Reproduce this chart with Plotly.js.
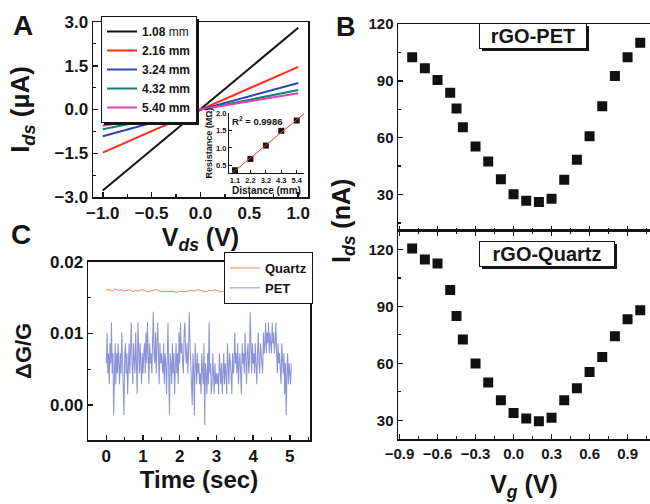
<!DOCTYPE html>
<html>
<head>
<meta charset="utf-8">
<script src="https://cdn.plot.ly/plotly-3.0.1.min.js"></script>
<style>html,body{margin:0;padding:0;background:#fff;}#chart{width:650px;height:504px;}</style>
</head>
<body>
<div id="chart"></div>
<script>
// ---------- Panel A: I-V curves ----------
const Vds = [-1, 0, 1];
const I_108 = [-2.78, 0, 2.80];
const I_216 = [-1.48, 0, 1.46];
const I_324 = [-0.92, 0, 0.91];
const I_432 = [-0.68, 0, 0.67];
const I_540 = [-0.56, 0, 0.56];
const seriesNamesA = ['<b>1.08</b> mm', '<b>2.16 mm</b>', '<b>3.24 mm</b>', '<b>4.32 mm</b>', '<b>5.40 mm</b>'];

// ---------- Panel A inset: resistance vs distance ----------
const distance = [1.08, 2.16, 3.24, 4.32, 5.40];
const resistance = [0.35, 0.68, 1.07, 1.50, 1.80];
const distanceTickText = ['1.1', '2.2', '3.2', '4.3', '5.4'];

// ---------- Panel B: transfer curves ----------
const Vg = [-0.8, -0.7, -0.6, -0.5, -0.45, -0.4, -0.3, -0.2, -0.1, 0, 0.1, 0.2, 0.3, 0.4, 0.5, 0.6, 0.7, 0.8, 0.9, 1.0];
const Ids_PET = [102.4, 96.7, 90.4, 83.7, 75.4, 65.5, 55.3, 47.4, 38.0, 30.2, 26.7, 26.0, 27.8, 37.8, 48.4, 60.7, 76.6, 92.6, 102.4, 110.1];
const Ids_Quartz = [120.5, 114.7, 112.6, 98.6, 84.9, 72.6, 59.9, 49.9, 40.6, 33.9, 30.9, 29.5, 31.4, 40.6, 46.9, 55.5, 63.4, 74.3, 83.3, 88.0];

// ---------- Panel C: noise vs time ----------
const timeStartQuartz = 0, timeStepQuartz = 0.08;
const dGG_Quartz = [
0.0160,0.0161,0.0159,0.0162,0.0160,0.0161,0.0159,0.0160,0.0161,0.0158,
0.0160,0.0159,0.0161,0.0160,0.0158,0.0159,0.0160,0.0161,0.0159,0.0158,
0.0159,0.0158,0.0159,0.0158,0.0157,0.0159,0.0158,0.0158,0.0159,0.0160,
0.0159,0.0161,0.0160,0.0159,0.0158,0.0160,0.0159,0.0161,0.0160,0.0158,
0.0159,0.0160,0.0158,0.0159,0.0160,0.0159,0.0158,0.0160,0.0159,0.0161,
0.0159,0.0160,0.0158,0.0159,0.0160,0.0159,0.0158,0.0159,0.0160,0.0159,
0.0158,0.0159,0.0158,0.0159];
const timeStartPET = 0, timeStepPET = 0.02;
const dGG_PET = [
0.0058,0.0101,0.0044,0.0072,0.0029,0.0086,0.0058,0.0115,0.0044,0.0072,-0.0014,0.0058,0.0086,0.0029,0.0072,0.0044,0.0086,0.0058,0.0029,0.0072,0.0044,0.0101,0.0058,0.0029,-0.0014,0.0072,
0.0086,0.0044,0.0072,0.0015,0.0058,0.0086,0.0044,0.0072,0.0115,0.0058,0.0029,0.0086,0.0072,0.0044,0.0101,0.0058,0.0015,0.0115,0.0072,0.0044,0.0086,0.0058,0.0029,0.0072,0.0044,
0.0072,0.0086,0.0044,0.0101,0.0058,0.0115,0.0072,0.0029,0.0086,0.0058,0.0072,0.0044,0.0086,0.0130,0.0072,0.0058,0.0101,0.0044,0.0086,0.0115,0.0072,0.0029,0.0086,0.0058,0.0072,
0.0058,0.0044,0.0086,0.0029,0.0072,0.0058,0.0015,0.0086,0.0115,0.0044,-0.0014,0.0072,0.0058,0.0029,0.0086,0.0044,0.0072,0.0015,0.0058,0.0086,0.0044,0.0072,0.0029,0.0101,0.0058,
0.0115,0.0072,0.0086,0.0058,0.0044,0.0101,0.0115,0.0072,0.0058,0.0086,0.0044,0.0072,0.0130,0.0086,0.0058,0.0029,0.0000,0.0072,0.0044,-0.0014,0.0086,0.0058,0.0029,0.0072,0.0044,
0.0058,0.0029,0.0044,0.0015,0.0072,0.0044,0.0029,0.0086,-0.0028,0.0058,0.0044,0.0015,0.0072,0.0029,0.0115,0.0044,0.0058,0.0015,0.0029,0.0072,0.0044,0.0015,0.0058,0.0029,0.0044,
0.0029,0.0044,0.0015,0.0072,0.0044,0.0029,0.0058,0.0015,0.0044,0.0072,0.0029,0.0058,0.0044,0.0015,0.0086,0.0044,0.0029,0.0072,0.0058,0.0044,0.0015,0.0072,0.0044,0.0058,0.0101,
0.0058,0.0072,0.0044,0.0086,0.0029,0.0058,0.0072,0.0044,0.0015,0.0086,0.0058,0.0072,0.0044,0.0101,0.0058,0.0029,0.0072,0.0086,0.0044,0.0058,0.0130,0.0072,0.0044,0.0086,0.0058,
0.0072,0.0044,0.0086,0.0058,0.0029,0.0072,0.0101,0.0058,0.0044,0.0086,0.0072,0.0058,0.0044,0.0101,0.0072,0.0086,0.0115,0.0072,0.0101,0.0086,0.0115,0.0072,0.0101,0.0086,0.0072,
0.0115,0.0086,0.0101,0.0072,0.0086,0.0115,0.0072,0.0044,0.0086,0.0058,0.0072,0.0044,0.0029,0.0086,0.0058,0.0044,0.0072,0.0015,0.0058,-0.0014,0.0044,0.0072,0.0029,0.0058,0.0044,0.0029,0.0058];

// ---------- styling ----------
const FONT = 'Arial, "Liberation Sans", sans-serif';
const INK = '#151515';
const W = 650, H = 504;
const px = v => v / W;
const py = v => 1 - v / H;

function ax(o) {
  const base = {
    showline: true, linecolor: INK, linewidth: 1.5,
    ticks: 'inside', ticklen: 5, tickwidth: 1.5, tickcolor: INK,
    showgrid: false, zeroline: false, automargin: false,
    tickfont: {family: FONT, size: 16, weight: 'bold', color: INK}
  };
  return Object.assign(base, o);
}
function minor(dt, len) { return {dtick: dt, ticks: 'inside', ticklen: len || 3, tickwidth: 1.2, tickcolor: INK}; }

const colorsA = ['#111111', '#ff2a1a', '#2a44b8', '#0f8270', '#e040b4'];
const seriesA = [I_108, I_216, I_324, I_432, I_540];

const data = [];
seriesA.forEach((ys, i) => data.push({
  type: 'scatter', mode: 'lines', x: Vds, y: ys, name: seriesNamesA[i],
  line: {color: colorsA[i], width: 2}, xaxis: 'x', yaxis: 'y', legend: 'legend'
}));

// inset
data.push({type: 'scatter', mode: 'markers', x: distance, y: resistance, xaxis: 'x2', yaxis: 'y2',
  marker: {symbol: 'square', size: 6, color: '#111'}, showlegend: false});
// linear fit computed from the data
(function () {
  const n = distance.length;
  const mx = distance.reduce((a, b) => a + b, 0) / n;
  const my = resistance.reduce((a, b) => a + b, 0) / n;
  let sxy = 0, sxx = 0;
  for (let i = 0; i < n; i++) { sxy += (distance[i] - mx) * (resistance[i] - my); sxx += (distance[i] - mx) ** 2; }
  const slope = sxy / sxx, icpt = my - slope * mx;
  const fx = [0.66, 5.95];
  data.push({type: 'scatter', mode: 'lines', x: fx, y: fx.map(v => icpt + slope * v), xaxis: 'x2', yaxis: 'y2',
    line: {color: '#ff3a20', width: 1}, showlegend: false});
})();

// panel B
data.push({type: 'scatter', mode: 'markers', x: Vg, y: Ids_PET, xaxis: 'x3', yaxis: 'y3',
  marker: {symbol: 'square', size: 10, color: '#111'}, showlegend: false});
data.push({type: 'scatter', mode: 'markers', x: Vg, y: Ids_Quartz, xaxis: 'x4', yaxis: 'y4',
  marker: {symbol: 'square', size: 10, color: '#111'}, showlegend: false});

// panel C
data.push({type: 'scatter', mode: 'lines', x0: timeStartQuartz, dx: timeStepQuartz, y: dGG_Quartz, name: 'Quartz',
  xaxis: 'x5', yaxis: 'y5', line: {color: '#f4603c', width: 0.8}, legend: 'legend2'});
data.push({type: 'scatter', mode: 'lines', x0: timeStartPET, dx: timeStepPET, y: dGG_PET, name: 'PET',
  xaxis: 'x5', yaxis: 'y5', line: {color: 'rgba(70,82,192,0.62)', width: 1.05}, legend: 'legend2'});

const bold = size => ({family: FONT, size: size, weight: 'bold', color: INK});
const label = (text, x, y, size, extra) => Object.assign({text: text, x: px(x), y: py(y), xref: 'paper', yref: 'paper',
  xanchor: 'center', yanchor: 'middle', showarrow: false, font: bold(size)}, extra || {});

const layout = {
  width: W, height: H,
  margin: {l: 0, r: 0, t: 0, b: 0},
  paper_bgcolor: '#fff', plot_bgcolor: 'rgba(0,0,0,0)',
  font: {family: FONT, color: INK},
  // Panel A
  xaxis: ax({domain: [px(93), px(308)], range: [-1.1, 1.1], anchor: 'y', tick0: 0, dtick: 0.5, tickformat: '.1f',
    minor: minor(0.25), mirror: true, tickfont: bold(17),
    title: {text: 'V<sub><i>ds</i></sub> (V)', font: bold(25), standoff: 2}}),
  yaxis: ax({domain: [py(197), py(22)], range: [-3, 3], anchor: 'x', tick0: 0, dtick: 1.5, tickformat: '.1f',
    minor: minor(0.75), mirror: true, tickfont: bold(17),
    title: {text: 'I<sub><i>ds</i></sub> (µA)', font: bold(26), standoff: 17}}),
  // inset
  xaxis2: ax({domain: [px(229), px(304)], range: [0.66, 5.91], anchor: 'y2', tickvals: distance, ticktext: distanceTickText,
    linewidth: 1, ticklen: 3, tickwidth: 1, tickfont: bold(7.5),
    title: {text: 'Distance (mm)', font: bold(10), standoff: 0}}),
  yaxis2: ax({domain: [py(173), py(113)], range: [0.27, 2.02], anchor: 'x2', tickvals: [0.5, 1.0, 1.5, 2.0], tickformat: '.1f',
    linewidth: 1, ticklen: 3, tickwidth: 1, tickfont: bold(7.5),
    title: {text: 'Resistance (MΩ)', font: bold(9), standoff: 1}}),
  // Panel B top
  xaxis3: ax({domain: [px(398), 1], range: [-0.912, 1.077], anchor: 'y3', tick0: 0, dtick: 0.3, showticklabels: false,
    minor: minor(0.15), mirror: true}),
  yaxis3: ax({domain: [py(230.5), py(24)], range: [11, 120], anchor: 'x3', tick0: 0, dtick: 30,
    minor: minor(15), tickfont: bold(15)}),
  // Panel B bottom
  xaxis4: ax({domain: [px(398), 1], range: [-0.912, 1.077], anchor: 'y4', tick0: 0, dtick: 0.3, tickformat: '.1f',
    minor: minor(0.15), mirror: 'ticks', tickfont: bold(15),
    title: {text: 'V<sub><i>g</i></sub> (V)', font: bold(25), standoff: 14}}),
  yaxis4: ax({domain: [py(439.3), py(230.5)], range: [20, 130], anchor: 'x4', tick0: 0, dtick: 30,
    minor: minor(15), tickfont: bold(15)}),
  // Panel C
  xaxis5: ax({domain: [px(88), px(310)], range: [-0.5, 5.55], anchor: 'y5', tick0: 0, dtick: 1,
    minor: minor(0.5), mirror: true, tickfont: bold(17),
    title: {text: 'Time (sec)', font: bold(24), standoff: 4}}),
  yaxis5: ax({domain: [py(440), py(261.7)], range: [-0.0049, 0.02], anchor: 'x5', tick0: 0, dtick: 0.01, tickformat: '.2f',
    minor: minor(0.005), mirror: true, tickfont: bold(17),
    title: {text: 'ΔG/G', font: bold(22), standoff: 12}}),
  legend: {x: px(101), y: py(16), xanchor: 'left', yanchor: 'top', bgcolor: '#fff', bordercolor: INK, borderwidth: 1,
    font: {family: FONT, size: 12, color: INK}, itemwidth: 30, tracegroupgap: 0},
  legend2: {x: px(313), y: py(252), xanchor: 'right', yanchor: 'top', bgcolor: '#fff', bordercolor: INK, borderwidth: 1,
    font: {family: FONT, size: 13, weight: 'bold', color: INK}, itemwidth: 30, tracegroupgap: 0},
  annotations: [
    label('A', 23, 25, 28),
    label('B', 346, 27, 27),
    label('C', 21, 234, 28),
    label('R<sup>2</sup> = 0.9986', 257, 121, 9.5),
    label('rGO-PET', 533, 36.5, 20, {bgcolor: '#fff', bordercolor: INK, borderwidth: 1, borderpad: 1, width: 104}),
    label('rGO-Quartz', 547, 254, 20, {bgcolor: '#fff', bordercolor: INK, borderwidth: 1, borderpad: 1, width: 132}),
    label('I<sub><i>ds</i></sub> (nA)', 343, 221, 25, {textangle: -90})
  ]
};

const gd = document.getElementById('chart');
Plotly.newPlot(gd, data, layout, {displayModeBar: false, staticPlot: true}).then(() => {
  // drop shadows behind the legend boxes and the label boxes
  const d = gd.getBoundingClientRect();
  const shapes = [];
  const shadow = el => {
    if (!el) return;
    const r = el.getBoundingClientRect();
    if (!r.width) return;
    const off = 2.5;
    shapes.push({type: 'rect', xref: 'paper', yref: 'paper', layer: 'above',
      x0: px(r.left - d.left + off), x1: px(r.right - d.left + off),
      y0: py(r.bottom - d.top + off), y1: py(r.top - d.top + off),
      fillcolor: INK, line: {width: 0}});
  };
  gd.querySelectorAll('g.legend > rect.bg').forEach(shadow);
  [4, 5].forEach(i => shadow(gd.querySelector('.annotation[data-index="' + i + '"] .bg')));
  return Plotly.relayout(gd, {shapes: shapes});
});
</script>
</body>
</html>
